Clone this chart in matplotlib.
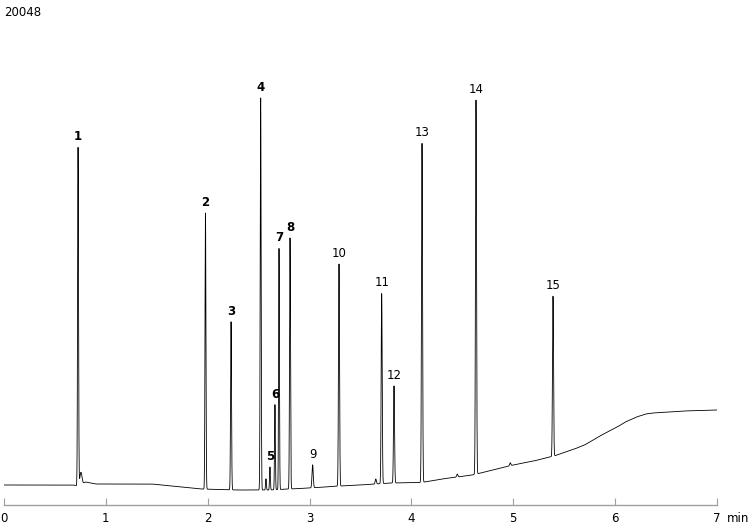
import numpy as np
import matplotlib
matplotlib.use("Agg")
import matplotlib.pyplot as plt

# ---- data ----
y_max_label = "20048"
x_ticks = [0, 1, 2, 3, 4, 5, 6, 7]
x_tick_labels = ["0", "1", "2", "3", "4", "5", "6", "7"]

baseline_t = [0.0, 0.68, 0.72, 0.80, 0.90, 1.45, 1.93, 2.30, 2.60, 3.00, 3.30, 3.50,
              3.80, 4.10, 4.30, 4.60, 4.80, 5.00, 5.20, 5.40, 5.60, 5.70, 5.85, 6.02,
              6.10, 6.21, 6.30, 6.37, 6.67, 7.00]
baseline_v = [802, 802, 762, 922, 842, 842, 642, 601, 601, 682, 762, 802,
              882, 902, 1043, 1203, 1403, 1604, 1764, 1965, 2245, 2406, 2767, 3128,
              3328, 3529, 3649, 3689, 3769, 3809]

peak_labels = ["1", "2", "3", "4", "5", "6", "7", "8", "9", "10", "11", "12", "13", "14", "15"]
peak_rt = [0.727, 1.978, 2.229, 2.520, 2.611, 2.660, 2.700, 2.808, 3.030, 3.289, 3.708,
           3.829, 4.104, 4.634, 5.390]
peak_height = [13554, 11068, 6737, 15719, 922, 3409, 9664, 10065, 922, 8902, 7619,
               3890, 13594, 14997, 6416]
peak_sigma = [0.0045, 0.0045, 0.0045, 0.0045, 0.004, 0.004, 0.004, 0.0045, 0.006, 0.005,
              0.005, 0.005, 0.005, 0.005, 0.005]
peak_bold = [True, True, True, True, True, True, True, True, False, False, False,
             False, False, False, False]

minor_rt = [0.755, 2.572, 3.650, 4.450, 4.970]
minor_height = [480, 450, 200, 120, 120]
minor_sigma = [0.010, 0.004, 0.006, 0.006, 0.006]

# ---- build trace ----
t = np.linspace(0, 7, 28001)
signal = np.interp(t, baseline_t, baseline_v)
for rt, h, s in zip(peak_rt + minor_rt, peak_height + minor_height, peak_sigma + minor_sigma):
    signal = signal + h * np.exp(-0.5 * ((t - rt) / s) ** 2)

fig = plt.figure(figsize=(7.5, 5.25), dpi=100)
ax = fig.add_axes([4 / 750, 20 / 525, 713 / 750, 500 / 525])
ax.plot(t, signal, color="black", lw=0.6)
ax.set_xlim(0, 7)
ax.set_ylim(0, 20048)

for lab, rt, h, bold in zip(peak_labels, peak_rt, peak_height, peak_bold):
    base = np.interp(rt, baseline_t, baseline_v)
    ax.annotate(lab, (rt, base + h), xytext=(0, 3), textcoords="offset points",
                ha="center", va="bottom", fontsize=8.5,
                fontweight="bold" if bold else "normal", color="black")

for s in ["top", "left", "right"]:
    ax.spines[s].set_visible(False)
ax.spines["bottom"].set_color("#a0a0a0")
ax.spines["bottom"].set_linewidth(1.0)
ax.set_yticks([])
ax.set_xticks(x_ticks)
ax.set_xticklabels(x_tick_labels)
ax.tick_params(axis="x", direction="in", length=5, color="#a0a0a0", labelsize=8.5,
               pad=5, labelcolor="black")

fig.text(738 / 750, 1 - 519 / 525, "min", fontsize=8.5, ha="center", va="center")
fig.text(4 / 750, 1 - 12 / 525, y_max_label, fontsize=8.5, ha="left", va="center")

fig.savefig("out.png", dpi=100)
